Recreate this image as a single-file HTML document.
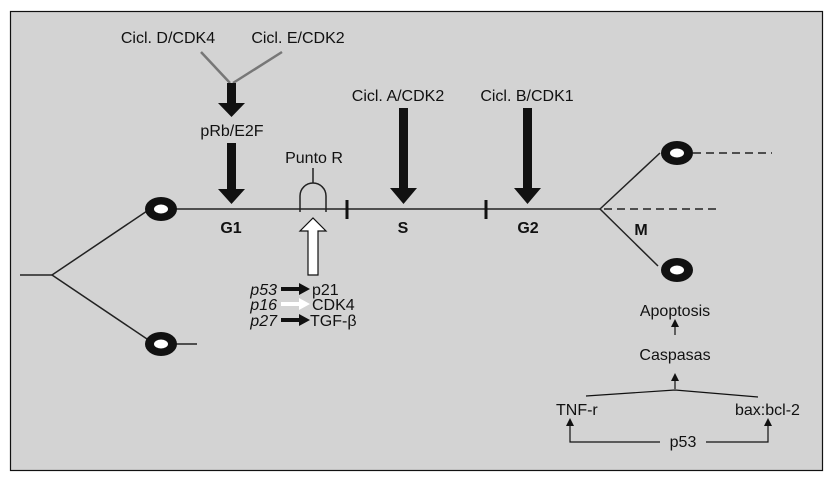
<!DOCTYPE html>
<html><head><meta charset="utf-8"><style>
html,body{margin:0;padding:0;background:#fff}
svg{display:block}
text{font-family:"Liberation Sans Narrow","Liberation Sans",sans-serif;font-size:16px;fill:#111}
</style></head><body>
<svg width="837" height="479" viewBox="0 0 837 479" xmlns="http://www.w3.org/2000/svg">
<defs>
<marker id="a" markerWidth="8" markerHeight="8" refX="4" refY="4" orient="auto" markerUnits="userSpaceOnUse"><path d="M0,0 L8,4 L0,8 z" fill="#111"/></marker>
</defs>
<rect x="10.5" y="11.5" width="812" height="459" fill="#d3d3d3" stroke="#111" stroke-width="1.2"/>
<g stroke="#222" stroke-width="1.5" fill="none">
<line x1="20" y1="275" x2="52" y2="275"/>
<line x1="52" y1="275" x2="150" y2="209"/>
<line x1="52" y1="275" x2="150" y2="341"/>
<line x1="175" y1="344" x2="197" y2="344"/>
<line x1="170" y1="209" x2="600" y2="209"/>
<line x1="600" y1="209" x2="660" y2="153"/>
<line x1="600" y1="209" x2="658" y2="266"/>
<line x1="693" y1="153" x2="772" y2="153" stroke-dasharray="8,5"/>
<line x1="604" y1="209" x2="718" y2="209" stroke-dasharray="8,5"/>
<line x1="313" y1="168" x2="313" y2="183"/>
<path d="M300,212 L300,196 A13,13 0 0 1 326,196 L326,212"/>
</g>
<line x1="347" y1="200" x2="347" y2="219" stroke="#111" stroke-width="3"/>
<line x1="486" y1="200" x2="486" y2="219" stroke="#111" stroke-width="3"/>
<g fill="#111">
<ellipse cx="161" cy="209" rx="16" ry="12"/><ellipse cx="161" cy="344" rx="16" ry="12"/>
<ellipse cx="677" cy="153" rx="16" ry="12"/><ellipse cx="677" cy="270" rx="16" ry="12"/>
</g>
<g fill="#fff">
<ellipse cx="161" cy="209" rx="7" ry="4.5"/><ellipse cx="161" cy="344" rx="7" ry="4.5"/>
<ellipse cx="677" cy="153" rx="7" ry="4.5"/><ellipse cx="677" cy="270" rx="7" ry="4.5"/>
</g>
<g stroke="#777" stroke-width="2.5"><line x1="201" y1="52" x2="230" y2="83"/><line x1="282" y1="52" x2="233" y2="83"/></g>
<g fill="#111">
<path d="M227,83 h9 v20 h9 l-13.5,14 l-13.5,-14 h9z"/>
<path d="M227,143 h9 v46 h9 l-13.5,15 l-13.5,-15 h9z"/>
<path d="M399,108 h9 v80 h9 l-13.5,16 l-13.5,-16 h9z"/>
<path d="M523,108 h9 v80 h9 l-13.5,16 l-13.5,-16 h9z"/>
</g>
<path d="M308,275 v-44 h-8 l13,-13 l13,13 h-8 v44z" fill="#fff" stroke="#111" stroke-width="1.2"/>
<path d="M281,287 h18 v-4 l11,6 l-11,6 v-4 h-18z" fill="#111"/>
<path d="M281,302 h18 v-4 l11,6 l-11,6 v-4 h-18z" fill="#fff"/>
<path d="M281,318 h18 v-4 l11,6 l-11,6 v-4 h-18z" fill="#111"/>
<g text-anchor="middle">
<text x="168" y="43">Cicl. D/CDK4</text>
<text x="298" y="43">Cicl. E/CDK2</text>
<text x="232" y="136">pRb/E2F</text>
<text x="314" y="163">Punto R</text>
<text x="398" y="101">Cicl. A/CDK2</text>
<text x="527" y="101">Cicl. B/CDK1</text>
<text x="231" y="233" font-weight="bold" font-size="15">G1</text>
<text x="403" y="233" font-weight="bold" font-size="15">S</text>
<text x="528" y="233" font-weight="bold" font-size="15">G2</text>
<text x="641" y="235" font-weight="bold" font-size="15">M</text>
<text x="675" y="316">Apoptosis</text>
<text x="675" y="360">Caspasas</text>
<text x="683" y="447">p53</text>
</g>
<g text-anchor="end" font-style="italic">
<text x="277" y="295" font-style="italic">p53</text>
<text x="277" y="310" font-style="italic">p16</text>
<text x="277" y="326" font-style="italic">p27</text>
</g>
<text x="312" y="295">p21</text>
<text x="312" y="310">CDK4</text>
<text x="310" y="326">TGF-β</text>
<text x="556" y="415">TNF-r</text>
<text x="735" y="415">bax:bcl-2</text>
<g stroke="#111" stroke-width="1.2" fill="none">
<line x1="675" y1="335" x2="675" y2="323" marker-end="url(#a)"/>
<line x1="675" y1="389" x2="675" y2="377" marker-end="url(#a)"/>
<polyline points="586,396 675,390 758,397"/>
<polyline points="660,442 570,442 570,422" marker-end="url(#a)"/>
<polyline points="706,442 768,442 768,422" marker-end="url(#a)"/>
</g>
</svg>
</body></html>
